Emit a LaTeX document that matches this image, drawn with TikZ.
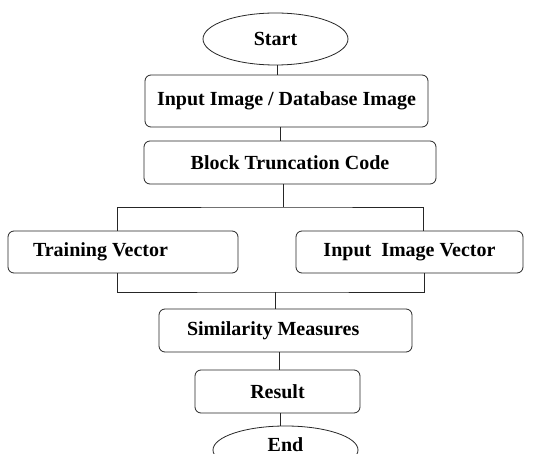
\documentclass[tikz,border=0pt]{standalone}
\usepackage{fontspec}
\setmainfont{Liberation Serif}
\usetikzlibrary{shapes.geometric,positioning}

\begin{document}
\begin{tikzpicture}[x=1pt,y=-1pt,line width=0.8pt,
    every node/.style={font=\bfseries\fontsize{20}{23}\selectfont},
    box/.style={draw=black!85,rounded corners=6pt,inner sep=0pt},
    term/.style={draw=black!85,ellipse,inner sep=0pt,minimum width=145pt,minimum height=52pt}]
  \clip (0,0) rectangle (536,454);
  \fill[white] (0,0) rectangle (536,454);
  % flow nodes
  \node[term] (start) at (275.5,39) {Start};
  \node[box,minimum width=283pt,minimum height=52pt] (input) at (286.5,101) {Input Image / Database Image};
  \node[box,minimum width=292pt,minimum height=43pt] (btc) at (290,162.5) {Block Truncation Code};
  \node[box,minimum height=42pt,text width=180pt,inner xsep=25pt,align=flush left] (train) at (123,252) {Training Vector};
  \node[box,minimum width=227pt,minimum height=42pt] (vec) at (409.5,252) {Input~~Image Vector};
  \node[box,minimum height=43pt,text width=197pt,inner xsep=28pt,align=flush left] (sim) at (285.5,330.5) {Similarity Measures};
  \node[box,minimum width=165pt,minimum height=43pt] (res) at (277.5,391.5) {Result};
  \node[term,minimum height=48pt] (end) at (285.5,450) {\raisebox{11pt}{End}};
  % connectors
  \coordinate (split) at (283,207);
  \coordinate (join) at (275,292);
  \draw[black!85] (277,0 |- start.south) -- (277,0 |- input.north);
  \draw[black!85] (280,0 |- input.south) -- (280,0 |- btc.north);
  \draw[black!85] (283,0 |- btc.south) -- (split);
  \draw[black!85] (117,0 |- train.north) |- (split) -| (423,0 |- vec.north);
  \draw[black!85] (117,0 |- train.south) |- (join) -| (424,0 |- vec.south);
  \draw[black!85] (join) -- (275,0 |- sim.north);
  \draw[black!85] (279,0 |- sim.south) -- (279,0 |- res.north);
  \draw[black!85] (280,0 |- res.south) -- (280,0 |- end.north);
\end{tikzpicture}
\end{document}
